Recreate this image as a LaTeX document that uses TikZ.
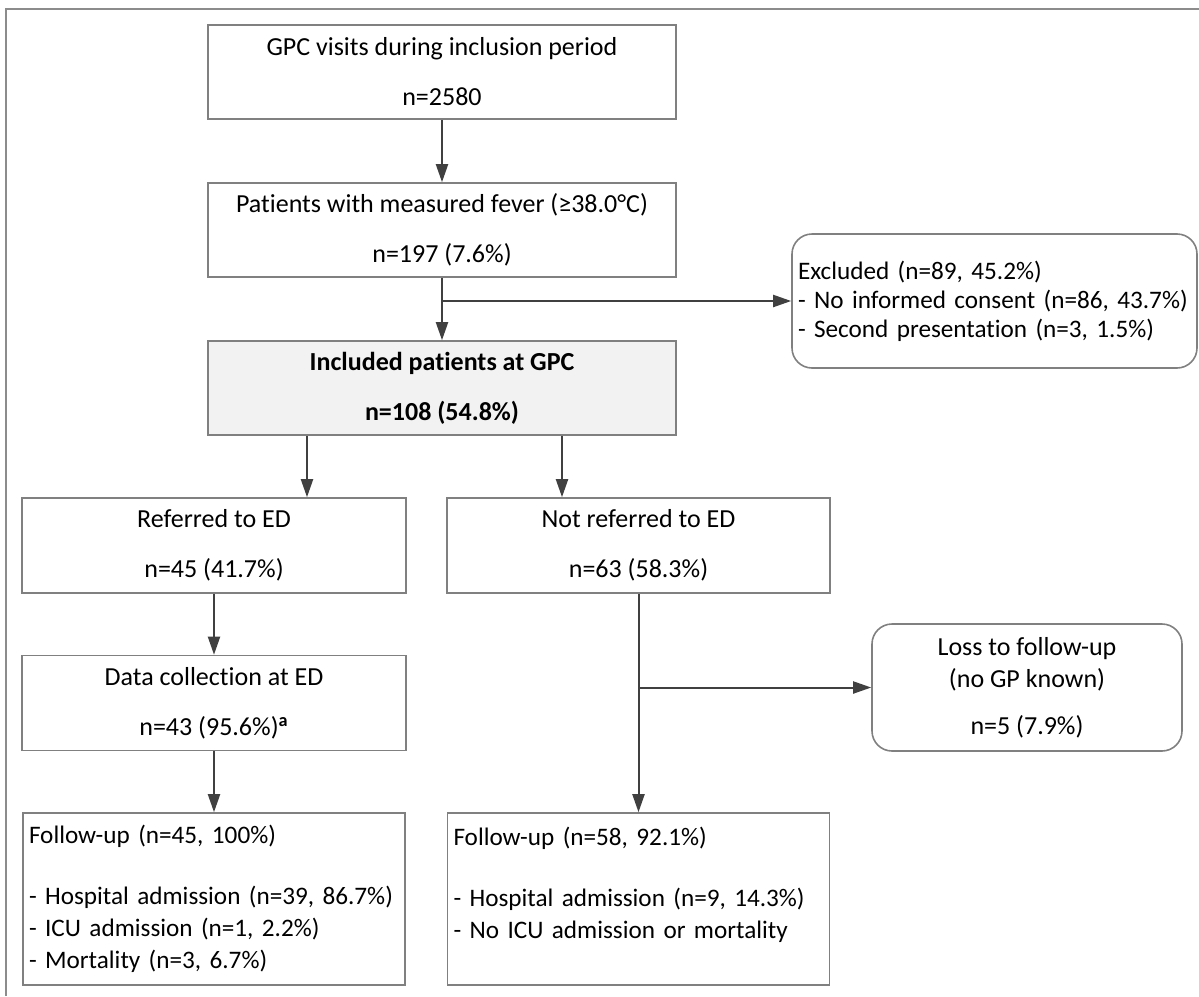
\documentclass[tikz,border=0pt]{standalone}
\usepackage{fontspec}
\setmainfont{Carlito}[Ligatures=NoCommon]
\usepackage{tikz}
\usetikzlibrary{arrows.meta,positioning}
\definecolor{boxgray}{RGB}{128,128,128}
\definecolor{linegray}{RGB}{64,64,64}
\definecolor{fillgray}{RGB}{242,242,242}
\definecolor{framegray}{RGB}{140,140,140}
\tikzset{
    flowbox/.style={
        draw=boxgray,
        line width=0.8pt,
        rectangle,
        align=center,
        inner sep=0pt,
        font=\fontsize{13}{25}\selectfont
    },
    % boxes with left aligned lines
    listbox/.style={
        flowbox,
        align=left,
        inner xsep=3pt,
        font=\fontsize{12.6}{16}\selectfont
    },
    flowarrow/.style={
        line width=1pt,
        linegray,
        -{Triangle[length=9pt, width=6pt]}
    }
}

\begin{document}
\begin{tikzpicture}[x=0.5pt, y=-0.5pt]
        \useasboundingbox (0,0) rectangle (1199,996);
        \draw[framegray, line width=1pt] (6,996) -- (6,9) -- (1199,9);

        \node[flowbox, minimum width=234pt, minimum height=47pt] (visits) at (442,72) {GPC visits during inclusion period\\n=2580};
        \node[flowbox, minimum width=234pt, minimum height=47pt] (fever) at (442,230) {Patients with measured fever (≥38.0°C)\\n=197 (7.6\%)};
        \node[flowbox, minimum width=234pt, minimum height=47pt, fill=fillgray] (included) at (442,388) {\textbf{Included patients at GPC}\\\textbf{n=108 (54.8\%)}};
        \node[listbox, text width=196.5pt, minimum height=67pt, rounded corners=10pt, font=\fontsize{12.6}{14.5}\selectfont] (excluded) at (994.5,301) {Excluded (n=89, 45.2\%)\\- No informed consent (n=86, 43.7\%)\\- Second presentation (n=3, 1.5\%)};

        \node[flowbox, minimum width=192pt, minimum height=47.5pt] (referred) at (214,545.5) {Referred to ED\\n=45 (41.7\%)};
        \node[flowbox, minimum width=191.5pt, minimum height=47.5pt] (notreferred) at (638.5,545.5) {Not referred to ED\\n=63 (58.3\%)};
        \node[flowbox, minimum width=192pt, minimum height=47.5pt] (datacoll) at (214,703) {Data collection at ED\\n=43 (95.6\%)\textsuperscript{\textbf{a}}};
        \node[flowbox, minimum width=155pt, minimum height=63.5pt, rounded corners=10pt, font=\fontsize{13}{16}\selectfont] (loss) at (1027,687.5) {Loss to follow-up\\(no GP known)\\[7.5pt]n=5 (7.9\%)};

        \node[listbox, text width=185pt, minimum height=86pt] (fuleft) at (214,899) {Follow-up (n=45, 100\%)\\[14.5pt]- Hospital admission (n=39, 86.7\%)\\- ICU admission (n=1, 2.2\%)\\- Mortality (n=3, 6.7\%)};
        \node[listbox, text width=185pt, minimum height=86pt] (furight) at (638.5,899) {Follow-up (n=58, 92.1\%)\\[14.5pt]- Hospital admission (n=9, 14.3\%)\\- No ICU admission or mortality\\\mbox{}};

        \draw[flowarrow] (visits) -- (fever);
        \draw[flowarrow] (fever) -- (included);
        \draw[flowarrow] (fever.south |- excluded.west) -- (excluded.west);
        \draw[flowarrow] ([xshift=-67.5pt]included.south) -- ([xshift=-67.5pt]included.south |- referred.north);
        \draw[flowarrow] ([xshift=60pt]included.south) -- ([xshift=60pt]included.south |- notreferred.north);
        \draw[flowarrow] (referred) -- (datacoll);
        \draw[flowarrow] (datacoll) -- (fuleft);
        \draw[flowarrow] (notreferred) -- (furight);
        \draw[flowarrow] (notreferred.south |- loss.west) -- (loss.west);
\end{tikzpicture}
\end{document}
